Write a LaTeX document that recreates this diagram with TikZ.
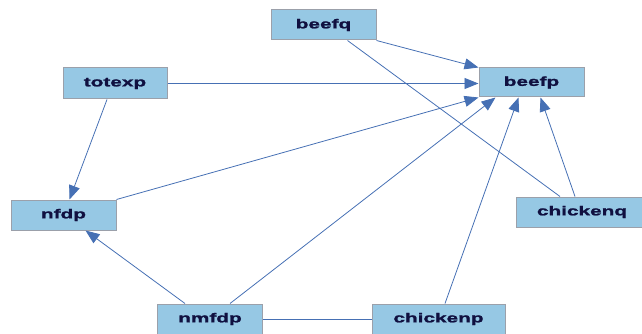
\documentclass[tikz,border=0pt]{standalone}
\usepackage{fontspec}
\usepackage{xcolor}
\usepackage{tikz}
\usetikzlibrary{arrows.meta}
\newfontfamily\boxfont{Liberation Sans}[FakeStretch=1.6,FakeBold=1.5]
\definecolor{boxfill}{RGB}{150,200,228}
\definecolor{boxline}{RGB}{155,160,170}
\definecolor{edgeblue}{RGB}{70,112,180}
\definecolor{boxtext}{RGB}{16,16,64}
\tikzset{
    varnode/.style = {rectangle, draw=boxline, fill=boxfill, line width=1pt, minimum height=30pt, inner sep=0pt, text=boxtext, font=\boxfont\bfseries\fontsize{13}{15}\selectfont},
    link/.style = {draw=edgeblue, line width=0.8pt},
    dlink/.style = {link, -{Triangle[length=14pt,width=11pt]}}
}
\begin{document}
\begin{tikzpicture}[x=1pt, y=-1pt]
    \useasboundingbox (0,0) rectangle (642,334);

    % variables
    \node [varnode, minimum width=105pt] (beefq) at (323.5,25) {beefq};
    \node [varnode, minimum width=105pt, minimum height=29pt] (beefp) at (531.5,82.5) {beefp};
    \node [varnode, minimum width=104pt, minimum height=31pt] (totexp) at (115,83.5) {totexp};
    \node [varnode, minimum width=105pt] (nfdp) at (63.5,215) {nfdp};
    \node [varnode, minimum width=132pt] (chickenq) at (582,212) {chickenq};
    \node [varnode, minimum width=105pt] (nmfdp) at (210,319) {nmfdp};
    \node [varnode, minimum width=133pt] (chickenp) at (438.5,319) {chickenp};

    % directed links
    \draw [dlink] (beefq.south east) -- (beefp.north west);
    \draw [dlink] (totexp.east) -- (totexp.east -| beefp.west);
    \draw [dlink] (nfdp.north east) -- (beefp.south west);
    \draw [dlink] ([xshift=-7pt]chickenq.north) -- ([xshift=9pt]beefp.south);
    \draw [dlink] ([xshift=6.5pt]chickenp.north) -- ([xshift=-13pt]beefp.south);
    \draw [dlink] ([xshift=20pt]nmfdp.north) -- ([xshift=-36pt]beefp.south);
    \draw [dlink] ([xshift=-25pt]nmfdp.north) -- ([xshift=22pt]nfdp.south);
    \draw [dlink] ([xshift=-8pt]totexp.south) -- ([xshift=6pt]nfdp.north);

    % undirected links
    \draw [link] ([xshift=24pt]beefq.south) -- ([xshift=-22pt]chickenq.north);
    \draw [link] (nmfdp.east) -- (chickenp.west);
\end{tikzpicture}
\end{document}
